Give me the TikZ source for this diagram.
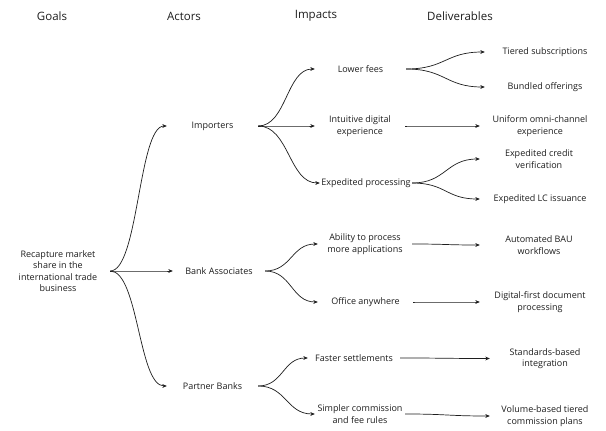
\documentclass[tikz,border=0pt]{standalone}
\usepackage{fontspec}
\setmainfont{Open Sans}
\usetikzlibrary{arrows.meta,calc}
\definecolor{ink}{HTML}{1E1E1E}
\begin{document}
\begin{tikzpicture}[x=1pt,y=-1pt,
  txt/.style={font=\fontsize{9}{11.5}\selectfont, align=center, inner sep=0pt, text=ink, minimum height=10pt},
  wbox/.style={txt, minimum width=#1},
  hdr/.style={font=\fontsize{11.5}{14}\selectfont, text=ink, inner sep=0pt},
  link/.style={draw=ink, line width=0.7pt, -{Stealth[length=4.5pt,width=3.8pt]},
    to path={let \p1=(\tikztostart), \p2=(\tikztotarget) in
      .. controls ({0.5*\x1+0.5*\x2},\y1) and ({0.5*\x1+0.5*\x2},\y2) .. (\tikztotarget) \tikztonodes}}
]
\useasboundingbox[fill=white] (0,0) rectangle (606,431);

% headers
\node[hdr] (h1) at (52,16) {Goals};
\node[hdr] (h2) at (184,16) {Actors};
\node[hdr] (h3) at (316,16) {Impacts};
\node[hdr] (h4) at (460,16) {Deliverables};

% goal
\node[wbox=104] (g) at (58,271) {Recapture market\\share in the\\international trade\\business};

% actors
\node[wbox=91] (a1) at (212.5,126) {Importers};
\node[wbox=92] (a2) at (219,271) {Bank Associates};
\node[wbox=91] (a3) at (212.5,386) {Partner Banks};

% impacts
\node[wbox=91] (i1) at (360.5,69) {Lower fees};
\node[wbox=90] (i2) at (360,126) {Intuitive digital\\experience};
\node[wbox=92] (i3) at (366,183) {Expedited processing};
\node[wbox=94] (i4) at (365,244) {Ability to process\\more applications};
\node[wbox=95] (i5) at (365.5,302) {Office anywhere};
\node[wbox=92] (i6) at (354,358) {Faster settlements};
\node[wbox=90] (i7) at (360,414) {Simpler commission\\and fee rules};

% deliverables
\node[wbox=120] (d1) at (545,52) {Tiered subscriptions};
\node[wbox=120] (d2) at (545,87) {Bundled offerings};
\node[wbox=120] (d3) at (540,126) {Uniform omni-channel\\experience};
\node[wbox=118] (d4) at (539,159) {Expedited credit\\verification};
\node[wbox=120] (d5) at (540,199) {Expedited LC issuance};
\node[wbox=118] (d6) at (539,245) {Automated BAU\\workflows};
\node[wbox=120] (d7) at (540,302) {Digital-first document\\processing};
\node[wbox=110] (d8) at (545,358.5) {Standards-based\\integration};
\node[wbox=110] (d9) at (545,416) {Volume-based tiered\\commission plans};

% goal -> actors
\draw[link] (g.east) to (a1.west);
\draw[link] (g.east) to (a2.west);
\draw[link] (g.east) to (a3.west);

% actors -> impacts
\draw[link] (a1.east) to (i1.west);
\draw[link] (a1.east) to (i2.west);
\draw[link] (a1.east) to (i3.west);
\draw[link] (a2.east) to (i4.west);
\draw[link] (a2.east) to (i5.west);
\draw[link] (a3.east) to (i6.west);
\draw[link] (a3.east) to (i7.west);

% impacts -> deliverables
\draw[link] (i1.east) to (d1.west);
\draw[link] (i1.east) to (d2.west);
\draw[link] (i2.east) to (d3.west);
\draw[link] (i3.east) to (d4.west);
\draw[link] (i3.east) to (d5.west);
\draw[link] (i4.east) to (d6.west);
\draw[link] (i5.east) to (d7.west);
\draw[link] (i6.east) to (d8.west);
\draw[link] (i7.east) to (d9.west);
\end{tikzpicture}
\end{document}
